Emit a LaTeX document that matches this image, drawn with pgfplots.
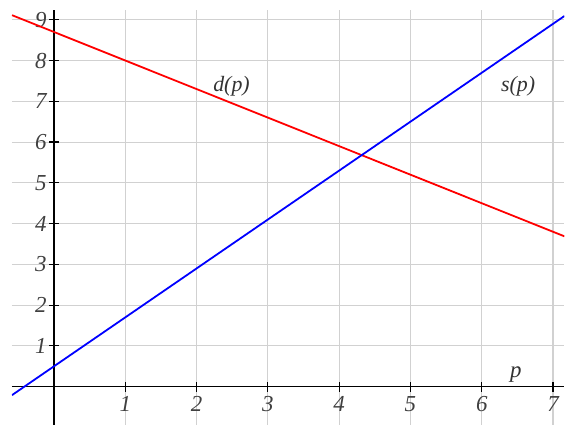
\documentclass[border=0pt]{standalone}
\usepackage{pgfplots}
\pgfplotsset{compat=1.18}
\usepackage{fontspec}
\setmainfont{Liberation Serif}
\begin{document}
\begin{tikzpicture}
\begin{axis}[
 scale only axis, width=553bp, height=415bp,
 xmin=-0.59, xmax=7.16, ymin=-0.93, ymax=9.24,
 axis lines=middle, axis line style={black, line width=1.2pt, -},
 xtick={1,...,7}, ytick={1,...,9},
 grid=major, major grid style={black!18, line width=1.1pt},
 tick align=center, major tick length=10bp, tick style={black, line width=1.2pt},
 /pgf/number format/assume math mode=true,
 ticklabel style={font=\itshape\fontsize{23}{23}\selectfont, text=black!75},
 xticklabel style={yshift=-1bp},
 yticklabel style={xshift=1bp},
]
\addplot[red, line width=1.8pt] coordinates {(-0.59,9.113) (7.16,3.688)};
\addplot[blue, line width=1.8pt] coordinates {(-0.59,-0.208) (7.16,9.092)};
\node[font=\itshape\fontsize{22}{22}\selectfont, text=black!80] at (axis cs:2.49,7.37) {d(p)};
\node[font=\itshape\fontsize{22}{22}\selectfont, text=black!80] at (axis cs:6.51,7.37) {s(p)};
\node[font=\itshape\fontsize{23}{23}\selectfont, text=black!80] at (axis cs:6.48,0.3) {p};
\end{axis}
\path ([xshift=-12bp,yshift=10bp] current axis.north west) (current axis.south east);
\end{tikzpicture}
\end{document}
